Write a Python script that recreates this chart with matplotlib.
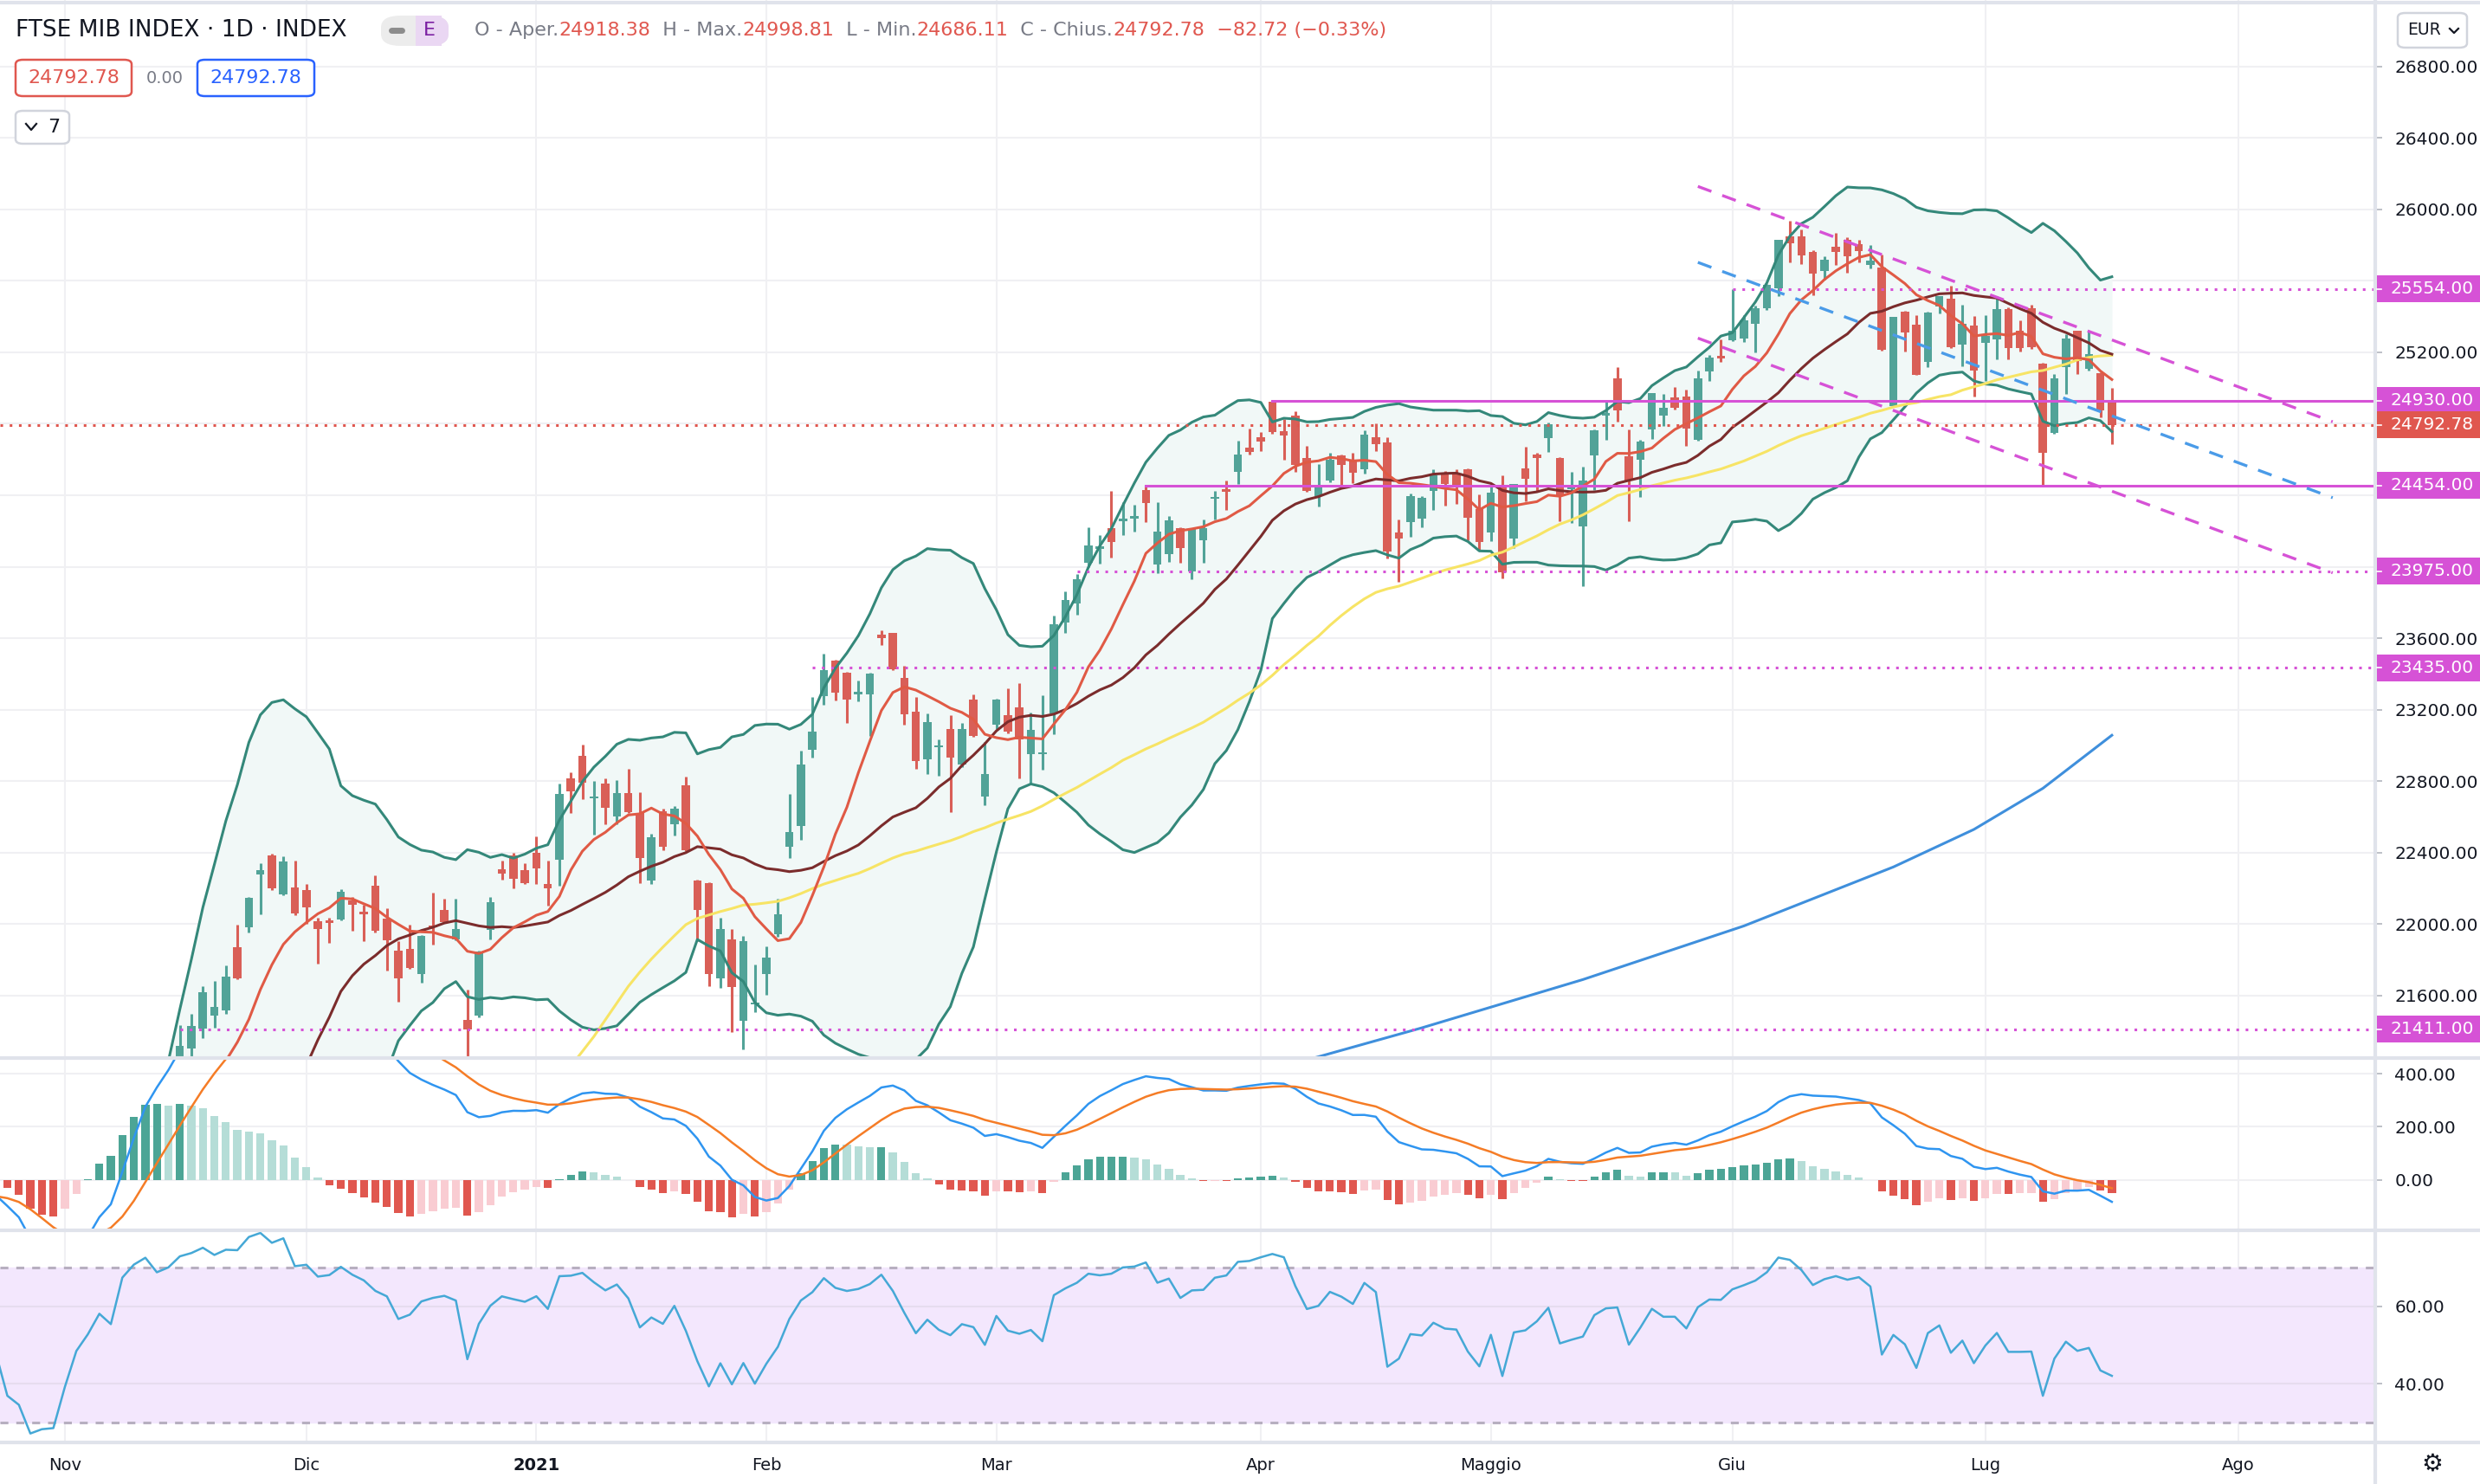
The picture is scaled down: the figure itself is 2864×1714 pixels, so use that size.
import numpy as np
import pandas as pd
import matplotlib
matplotlib.use('Agg')
import matplotlib.pyplot as plt
import matplotlib.transforms as mtransforms
from matplotlib.patches import Rectangle, FancyBboxPatch
from matplotlib.lines import Line2D

plt.rcParams['font.family'] = ['DejaVu Sans']

# ---- dati (FTSE MIB, giornaliero) ----
# chiusure precedenti (1 set 2020 -> 13 nov 2020), servono solo per gli indicatori
early_close = [19830, 20100, 19880, 19500, 19850, 19480, 19780, 19620, 19700, 19800, 19900,
               19950, 19720, 19650, 18920, 18960, 19060, 18800, 18720, 19200, 19150, 19030,
               19100, 19050, 19250, 19320, 19260, 19450, 19550, 19650, 19500, 19460, 18950,
               19250, 19300, 19350, 19150, 19140, 19250, 18700, 18550, 17950, 17990, 18000,
               18400, 18850, 19100, 19450, 19310, 20350, 20760, 21000, 20800, 20950]

# candele dal 16 nov 2020 al 16 lug 2021
opens = [21180, 21305, 21415, 21486, 21519, 21869, 21982, 22276, 22384, 22166,
         22207, 22190, 22018, 22022, 22026, 22133, 22068, 22215, 22031, 21854,
         21859, 21719, 21994, 22079, 21917, 21466, 21489, 21969, 22305, 22387,
         22302, 22399, 22223, 22361, 22818, 22944, 22702, 22785, 22601, 22734,
         22621, 22245, 22631, 22558, 22777, 22245, 22230, 21698, 21913, 21457,
         21550, 21721, 21942, 22431, 22547, 22977, 23276, 23476, 23407, 23285,
         23286, 23622, 23628, 23378, 23188, 22924, 22990, 23094, 22895, 23257,
         22715, 23114, 23169, 23214, 22950, 22950, 23178, 23687, 23796, 24022,
         24100, 24214, 24255, 24270, 24427, 24013, 24070, 24214, 23973, 24147,
         24380, 24425, 24533, 24668, 24726, 24922, 24758, 24846, 24608, 24394,
         24483, 24624, 24592, 24547, 24726, 24694, 24194, 24250, 24271, 24423,
         24520, 24520, 24544, 24324, 24190, 24460, 24158, 24548, 24628, 24719,
         24608, 24435, 24226, 24621, 24844, 25052, 24620, 24600, 24766, 24844,
         24948, 24953, 24709, 25093, 25170, 25266, 25278, 25359, 25445, 25556,
         25847, 25847, 25759, 25656, 25791, 25830, 25807, 25689, 25673, 24900,
         25426, 25353, 25148, 25457, 25502, 25245, 25348, 25253, 25270, 25442,
         25318, 25448, 25136, 24750, 25115, 25320, 25107, 25084, 24918.38]
highs = [21433, 21497, 21655, 21682, 21768, 21997, 22150, 22343, 22395, 22382,
         22354, 22223, 22035, 22038, 22195, 22154, 22108, 22272, 22087, 21904,
         21997, 21940, 22177, 22141, 22141, 21633, 21850, 22154, 22354, 22400,
         22343, 22490, 22354, 22789, 22849, 23007, 22800, 22818, 22805, 22871,
         22738, 22508, 22645, 22660, 22826, 22250, 22235, 22034, 21975, 21933,
         21776, 21874, 22142, 22729, 22973, 23272, 23511, 23480, 23410, 23364,
         23405, 23646, 23632, 23446, 23270, 23178, 23036, 23169, 23126, 23286,
         23018, 23260, 23319, 23350, 23182, 23282, 23726, 23863, 23957, 24222,
         24179, 24423, 24359, 24348, 24454, 24362, 24282, 24220, 24215, 24263,
         24423, 24483, 24705, 24772, 24753, 24930, 24825, 24869, 24676, 24573,
         24636, 24630, 24636, 24761, 24801, 24726, 24263, 24411, 24395, 24544,
         24536, 24547, 24550, 24407, 24456, 24512, 24464, 24670, 24637, 24808,
         24612, 24530, 24559, 24770, 24928, 25117, 24767, 24710, 24974, 24969,
         25006, 24993, 25099, 25185, 25274, 25554, 25408, 25461, 25580, 25830,
         25936, 25887, 25773, 25738, 25867, 25843, 25827, 25799, 25746, 25400,
         25430, 25409, 25426, 25515, 25572, 25466, 25401, 25408, 25515, 25453,
         25380, 25465, 25140, 25079, 25299, 25322, 25320, 25090, 24998.81]
lows = [21120, 21256, 21363, 21420, 21497, 21690, 21953, 22054, 22190, 22160,
        22050, 22002, 21781, 21895, 22020, 21961, 21904, 21955, 21740, 21568,
        21750, 21674, 21887, 22005, 21910, 21150, 21480, 21915, 22251, 22202,
        22225, 22226, 22105, 22215, 22620, 22699, 22502, 22559, 22558, 22620,
        22230, 22226, 22416, 22494, 22410, 21907, 21653, 21643, 21398, 21301,
        21510, 21604, 21930, 22371, 22474, 22930, 23227, 23251, 23126, 23247,
        23051, 23560, 23420, 23114, 22871, 22842, 22830, 22625, 22880, 23050,
        22664, 23090, 23070, 22817, 22783, 22866, 23061, 23628, 23732, 24000,
        24018, 24050, 24179, 24195, 24251, 23965, 24025, 24021, 23928, 24023,
        24263, 24319, 24464, 24629, 24649, 24745, 24597, 24533, 24420, 24335,
        24475, 24440, 24469, 24520, 24649, 24046, 23917, 24169, 24222, 24316,
        24340, 24351, 24147, 24094, 24142, 23936, 24103, 24365, 24421, 24644,
        24256, 24246, 23893, 24430, 24709, 24811, 24256, 24392, 24714, 24787,
        24880, 24678, 24705, 25039, 25144, 25260, 25255, 25201, 25437, 25513,
        25705, 25692, 25521, 25604, 25689, 25643, 25702, 25667, 25210, 24895,
        25205, 25072, 25115, 25416, 25222, 25120, 24953, 25039, 25161, 25161,
        25205, 25220, 24454, 24745, 24966, 25079, 25096, 24836, 24686.11]
closes = [21317, 21432, 21620, 21535, 21704, 21699, 22146, 22300, 22199, 22349,
          22059, 22095, 21972, 22005, 22182, 22108, 22056, 21961, 21912, 21699,
          21756, 21933, 21982, 22010, 21974, 21410, 21846, 22125, 22285, 22256,
          22231, 22313, 22199, 22731, 22741, 22792, 22715, 22649, 22734, 22625,
          22371, 22488, 22431, 22645, 22416, 22077, 21721, 21975, 21649, 21903,
          21560, 21815, 22054, 22517, 22891, 23077, 23419, 23296, 23257, 23300,
          23400, 23599, 23427, 23175, 22914, 23130, 22999, 22930, 23090, 23055,
          22842, 23257, 23075, 23036, 23087, 22957, 23677, 23814, 23928, 24121,
          24105, 24137, 24260, 24277, 24354, 24195, 24260, 24105, 24210, 24218,
          24387, 24420, 24629, 24644, 24702, 24753, 24735, 24571, 24423, 24454,
          24597, 24568, 24525, 24737, 24684, 24086, 24158, 24395, 24383, 24512,
          24464, 24456, 24274, 24137, 24415, 23970, 24463, 24490, 24608, 24795,
          24397, 24443, 24482, 24763, 24860, 24873, 24483, 24701, 24974, 24889,
          24889, 24771, 25055, 25169, 25166, 25318, 25380, 25448, 25575, 25827,
          25811, 25743, 25640, 25718, 25759, 25737, 25767, 25715, 25214, 25398,
          25313, 25075, 25424, 25513, 25226, 25359, 25096, 25291, 25442, 25223,
          25223, 25226, 24636, 25052, 25278, 25153, 25190, 24875.5, 24792.78]

# media mobile 200 (indice barra, valore)
sma200_bar = [108, 118, 132, 146, 159, 166, 172, 178]
sma200_val = [21240, 21420, 21690, 21990, 22320, 22530, 22760, 23057]

# livelli disegnati (valore, barra di partenza)
solid_levels = [(24930, 105), (24454, 94)]
dotted_levels = [(25554, 145), (23975, 88), (23435, 65), (21411, 10)]
last_price = 24792.78
# canale ribassista (x0, y0, x1, y1)
chan_upper = (142, 26128, 197.2, 24811)
chan_mid = (142, 25703, 197.2, 24386)
chan_lower = (142, 25279, 197.2, 23966)

month_labels = ['Nov', 'Dic', '2021', 'Feb', 'Mar', 'Apr', 'Maggio', 'Giu', 'Lug', 'Ago']

# ---- calendario di borsa ----
holidays = ['2020-12-24', '2020-12-25', '2020-12-31', '2021-01-01', '2021-04-02', '2021-04-05']
dates = pd.bdate_range('2020-09-01', '2021-08-31', freq='C', holidays=holidays)
base = dates.get_loc(pd.Timestamp('2020-11-02'))
month_pos = []
for m in pd.period_range('2020-11', '2021-08', freq='M'):
    first = dates[(dates.year == m.year) & (dates.month == m.month)][0]
    month_pos.append(dates.get_loc(first) - base)

n_early = len(early_close)
s = pd.Series(early_close + closes, dtype=float)
x_ind = np.arange(10 - n_early, 10 + len(closes))  # barre dal 2 nov 2020 = 0
x_c = np.arange(10, 10 + len(closes))

sma9 = s.rolling(9).mean()
sma20 = s.rolling(20).mean()
sd20 = s.rolling(20).std(ddof=0)
bb_up = sma20 + 2 * sd20
bb_lo = sma20 - 2 * sd20
sma50 = s.rolling(50).mean()
macd = s.ewm(span=12, adjust=False).mean() - s.ewm(span=26, adjust=False).mean()
signal = macd.ewm(span=9, adjust=False).mean()
hist = (macd - signal).values
delta = s.diff()
ag = delta.clip(lower=0).fillna(0).ewm(alpha=1 / 14, adjust=False).mean()
al = (-delta.clip(upper=0)).fillna(0).ewm(alpha=1 / 14, adjust=False).mean()
rsi = 100 - 100 / (1 + ag / al)

# ---- colori ----
UP = '#52a398'
DN = '#d95f57'
GRID = '#f0f0f3'
SEP = '#e0e3eb'
MAG = '#d652d6'
TXT = '#131722'
GRAY = '#787b86'
RED = '#e0574f'

W, H = 2864, 1714
fig = plt.figure(figsize=(W / 100, H / 100), dpi=100)
axw = 2743 / W
ax = fig.add_axes([0, 1 - 1222 / H, axw, 1222 / H])
axm = fig.add_axes([0, 1 - 1421 / H, axw, 199 / H])
axr = fig.add_axes([0, 1 - 1666 / H, axw, 245 / H])

xlim = (-5.64, 200.9)
for a in (ax, axm, axr):
    a.set_xlim(*xlim)
    for sp in a.spines.values():
        sp.set_visible(False)
    a.set_xticks([])
    a.yaxis.tick_right()
    a.tick_params(axis='y', direction='out', length=6, width=1.2, color='#b2b5be',
                  labelsize=14.5, labelcolor=TXT, pad=10)
    for p in month_pos:
        a.axvline(p, color=GRID, lw=1.5, zorder=0)

# ---- pannello prezzi ----
ax.set_ylim(21251, 27171)
pticks = np.arange(21600, 26801, 400)
ax.set_yticks(pticks)
# 25600, 24800 e 24400 sono coperti dalle etichette dei livelli
hidden = (25600, 24800, 24400)
ax.set_yticklabels(['' if v in hidden else f'{v:.2f}' for v in pticks])
for v in pticks:
    ax.axhline(v, color=GRID, lw=1.5, zorder=0)

ax.fill_between(x_ind, bb_up, bb_lo, color='#f1f8f7', zorder=1)
ax.plot(x_ind, bb_up, color='#34887a', lw=2.2, zorder=4)
ax.plot(x_ind, bb_lo, color='#34887a', lw=2.2, zorder=4)

o = np.array(opens)
h = np.array(highs)
l = np.array(lows)
c = np.array(closes)
col = np.where(c >= o, UP, DN)
ax.vlines(x_c, l, h, colors=col, lw=2.2, zorder=2)
body = np.maximum(np.abs(c - o), 12)
ax.bar(x_c, body, bottom=np.minimum(o, c), width=0.72, color=col, zorder=3)

ax.plot(x_ind, sma50, color='#f7e465', lw=2.2, zorder=5)
ax.plot(x_ind, sma20, color='#7b2c2c', lw=2.2, zorder=5)
ax.plot(x_ind, sma9, color='#e05a45', lw=2.2, zorder=5)
ax.plot(sma200_bar, sma200_val, color='#3f8fdc', lw=2.2, zorder=5)

for v, b in solid_levels:
    ax.plot([b, xlim[1]], [v, v], color=MAG, lw=2.2, zorder=6)
for v, b in dotted_levels:
    ax.plot([b, xlim[1]], [v, v], color=MAG, lw=2.2, ls=(0, (1, 2.5)), zorder=6)
ax.axhline(last_price, color=RED, lw=2.2, ls=(0, (1, 2.5)), zorder=6)
for (x0, y0, x1, y1), cc in [(chan_upper, MAG), (chan_lower, MAG), (chan_mid, '#4a9be8')]:
    ax.plot([x0, x1], [y0, y1], color=cc, lw=2.4, ls=(0, (5, 4)), zorder=6)

# ---- MACD ----
axm.set_ylim(-191, 460)
mt = [0, 200, 400]
axm.set_yticks(mt)
axm.set_yticklabels([f'{v:.2f}' for v in mt])
for v in mt:
    axm.axhline(v, color=GRID, lw=1.5, zorder=0)
prev = np.r_[np.nan, hist[:-1]]
hcol = []
for hv, pv in zip(hist, prev):
    if hv >= 0:
        hcol.append('#4ca596' if (np.isnan(pv) or hv > pv) else '#b5ddd7')
    else:
        hcol.append('#e0574f' if (np.isnan(pv) or hv < pv) else '#f9ccd2')
axm.bar(x_ind, hist, width=0.7, color=hcol, zorder=2)
axm.plot(x_ind, macd, color='#2f95f0', lw=1.8, zorder=3)
axm.plot(x_ind, signal, color='#f57c26', lw=1.8, zorder=3)

# ---- RSI ----
axr.set_ylim(24.9, 79.6)
rt = [40, 60]
axr.set_yticks(rt)
axr.set_yticklabels([f'{v:.2f}' for v in rt])
axr.axhspan(30, 70, color='#f3e7fd', zorder=0)
for v in rt:
    axr.axhline(v, color='#e6dcef', lw=1.5, zorder=1)
for v in (30, 70):
    axr.axhline(v, color='#b7afc0', lw=2.2, ls=(0, (3, 3)), zorder=1)
axr.plot(x_ind, rsi, color='#45a8d6', lw=1.8, zorder=3)

# ---- separatori ----
for yy in (3, 1222, 1421, 1666):
    fig.add_artist(Line2D([0, 1], [1 - yy / H] * 2, color=SEP, lw=3, zorder=1))
fig.add_artist(Line2D([axw, axw], [0, 1], color=SEP, lw=3, zorder=1))

# etichette mesi
trx = mtransforms.blended_transform_factory(axr.transData, fig.transFigure)
for p, lab in zip(month_pos, month_labels):
    fig.text(p, 1 - 1693 / H, lab, transform=trx, ha='center', va='center',
             fontsize=14, color=TXT, fontweight='bold' if lab == '2021' else 'normal')

# etichette di prezzo sull'asse
def tag(a, y, txt, bg):
    y0, y1 = a.get_ylim()
    hpx = a.get_position().height * H
    hh = 31 * (y1 - y0) / hpx
    tr = mtransforms.blended_transform_factory(fig.transFigure, a.transData)
    fig.add_artist(Rectangle((axw + 0.0006, y - hh / 2), 1 - axw, hh, transform=tr,
                             facecolor=bg, edgecolor='none', zorder=10))
    fig.add_artist(Line2D([axw + 0.0006, axw + 0.0026], [y, y], transform=tr,
                          color='white', lw=1.2, zorder=11))
    fig.text(2760 / W, y, txt, transform=tr, ha='left', va='center', fontsize=14.5,
             color='white', zorder=11)

for v, b in solid_levels + dotted_levels:
    tag(ax, v, f'{v:.2f}', MAG)
tag(ax, last_price, f'{last_price:.2f}', RED)

# ---- intestazione ----
def fy(ypx):
    return 1 - ypx / H

fig.text(18 / W, fy(35), 'FTSE MIB INDEX · 1D · INDEX', fontsize=19, color=TXT,
         ha='left', va='center')
fig.add_artist(FancyBboxPatch((440 / W, fy(53)), 78 / W, 35 / H,
                              boxstyle='round,pad=0,rounding_size=0.008',
                              facecolor='#ececec', edgecolor='none', zorder=2))
fig.add_artist(Rectangle((480 / W, fy(53)), 30 / W, 35 / H, facecolor='#ead7f3',
                         edgecolor='none', zorder=3))
fig.add_artist(FancyBboxPatch((490 / W, fy(53)), 28 / W, 35 / H,
                              boxstyle='round,pad=0,rounding_size=0.008',
                              facecolor='#ead7f3', edgecolor='none', zorder=3))
fig.add_artist(Line2D([452 / W, 464 / W], [fy(35), fy(35)], color='#8c8c8c', lw=5,
                      solid_capstyle='round', zorder=4))
fig.text(496 / W, fy(35), 'E', fontsize=16, color='#7b1fa2', ha='center', va='center', zorder=4)

renderer = fig.canvas.get_renderer()
xx = 548 / W
parts = [('O - Aper.', GRAY), ('24918.38', RED), ('  H - Max.', GRAY), ('24998.81', RED),
         ('  L - Min.', GRAY), ('24686.11', RED), ('  C - Chius.', GRAY), ('24792.78', RED),
         ('  \u221282.72 (\u22120.33%)', RED)]
for txt, cc in parts:
    t = fig.text(xx, fy(35), txt, fontsize=16, color=cc, ha='left', va='center')
    xx += t.get_window_extent(renderer=renderer).width / W

def box(x0, y0, x1, y1, ec):
    fig.add_artist(FancyBboxPatch((x0 / W, fy(y1)), (x1 - x0) / W, (y1 - y0) / H,
                                  boxstyle='round,pad=0,rounding_size=0.003',
                                  facecolor='white', edgecolor=ec, lw=1.8, zorder=5))

box(18, 69, 152, 111, RED)
fig.text(85 / W, fy(90), '24792.78', fontsize=16, color=RED, ha='center', va='center', zorder=6)
fig.text(190 / W, fy(90), '0.00', fontsize=14, color=GRAY, ha='center', va='center', zorder=6)
box(228, 69, 363, 111, '#2962ff')
fig.text(295 / W, fy(90), '24792.78', fontsize=16, color='#2962ff', ha='center', va='center', zorder=6)
box(18, 128, 80, 166, '#d1d4dc')
fig.add_artist(Line2D([30 / W, 36 / W, 42 / W], [fy(143), fy(150), fy(143)], color=TXT, lw=1.6, zorder=6))
fig.text(62 / W, fy(147), '7', fontsize=16, color=TXT, ha='center', va='center', zorder=6)

box(2769, 15, 2849, 55, '#d1d4dc')
fig.text(2800 / W, fy(35), 'EUR', fontsize=13.5, color=TXT, ha='center', va='center', zorder=6)
fig.add_artist(Line2D([2829 / W, 2834 / W, 2839 / W], [fy(33), fy(38), fy(33)], color=TXT, lw=1.6, zorder=6))
fig.text(2809 / W, fy(1691), '\u2699', fontsize=20, color=TXT, ha='center', va='center')

fig.savefig('out.png', dpi=100)
